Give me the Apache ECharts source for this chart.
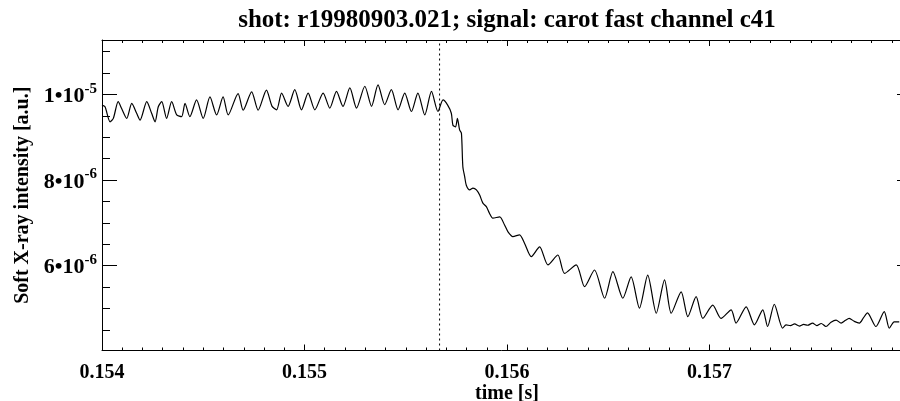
<!DOCTYPE html>
<html>
<head>
<meta charset="utf-8">
<script src="https://cdn.jsdelivr.net/npm/echarts@6/dist/echarts.min.js"></script>
<style>
  html, body { margin: 0; padding: 0; background: #fff; }
  #chart { width: 900px; height: 401px; }
</style>
</head>
<body>
<div id="chart"></div>
<script>
// time after 0.154 s, in microseconds
const tUs = [
  0, 15, 40, 56, 80, 97, 122, 147, 171, 188, 221, 245, 262, 278, 295, 319, 344, 369, 393, 410,
  434, 467, 500, 533, 566, 598, 623, 672, 697, 739, 771, 812, 840, 862, 887, 919, 952, 985, 1018, 1051,
  1092, 1125, 1158, 1190, 1224, 1257, 1298, 1331, 1363, 1396, 1429, 1462, 1495, 1528, 1560, 1594, 1627, 1659, 1684, 1707,
  1725, 1733, 1746, 1755, 1766, 1775, 1782, 1791, 1799, 1816, 1832, 1849, 1865, 1881, 1898, 1914, 1930, 1964, 1988, 2005,
  2029, 2062, 2087, 2120, 2161, 2202, 2251, 2284, 2342, 2383, 2432, 2482, 2523, 2572, 2613, 2654, 2695, 2737, 2778, 2811,
  2860, 2893, 2934, 2967, 3016, 3057, 3107, 3131, 3181, 3222, 3263, 3287, 3320, 3361, 3378, 3400, 3420, 3444, 3465, 3485,
  3509, 3530, 3552, 3575, 3600, 3625, 3650, 3670, 3690, 3715, 3740, 3760, 3780, 3822, 3863, 3888, 3912, 3937
];
// soft X-ray intensity, in units of 1e-6
const sxr = [
  9.75, 9.71, 9.36, 9.44, 9.83, 9.67, 9.44, 9.79, 9.56, 9.40, 9.83, 9.56, 9.36, 9.71, 9.83, 9.44, 9.83, 9.52, 9.48, 9.79,
  9.48, 9.87, 9.44, 9.94, 9.52, 9.94, 9.52, 10.02, 9.63, 10.06, 9.63, 10.10, 9.72, 9.64, 10.03, 9.72, 10.11, 9.64, 10.03, 9.64,
  10.03, 9.68, 10.07, 9.72, 10.15, 9.68, 10.19, 9.72, 10.22, 9.76, 10.11, 9.64, 10.03, 9.60, 10.03, 9.52, 10.07, 9.60, 9.87, 9.75,
  9.56, 9.28, 9.24, 9.44, 9.17, 9.09, 8.31, 8.08, 7.88, 7.77, 7.81, 7.77, 7.65, 7.46, 7.38, 7.22, 7.11, 7.14, 6.95, 6.79,
  6.68, 6.72, 6.52, 6.21, 6.44, 6.02, 6.25, 5.82, 6.02, 5.51, 5.90, 5.24, 5.86, 5.24, 5.74, 5.01, 5.78, 4.89, 5.67, 4.89,
  5.39, 4.81, 5.28, 4.77, 5.08, 4.77, 4.97, 4.66, 5.04, 4.62, 4.97, 4.58, 5.10, 4.54, 4.62, 4.60, 4.64, 4.59, 4.63, 4.61,
  4.66, 4.60, 4.65, 4.58, 4.68, 4.73, 4.66, 4.72, 4.77, 4.70, 4.66, 4.78, 4.90, 4.58, 4.93, 4.54, 4.69, 4.69
];
const markerTime = 0.155667;

const xMin = 0.154, xMax = 0.158, xStep = 0.001;
const yMin = 4.02e-6, yMax = 1.127e-5;
const yMajorTicks = [6e-6, 8e-6, 1e-5];
const yMajorText = [['6', '-6'], ['8', '-6'], ['1', '-5']];
const yMinorTicks = [4.5e-6, 5e-6, 5.5e-6, 6.5e-6, 7e-6, 7.5e-6, 8.5e-6, 9e-6, 9.5e-6, 1.05e-5, 1.1e-5];

const FONT = 'Liberation Serif';
const data = tUs.map((t, i) => [xMin + t * 1e-6, sxr[i] * 1e-6]);
const markerData = [[markerTime, yMin], [markerTime, yMax]];

const chart = echarts.init(document.getElementById('chart'), null, { renderer: 'canvas' });

const lineBlack = { color: '#000', width: 1 };

function xAxisDef(pos, showLabel) {
  return {
    type: 'value', position: pos, min: xMin, max: xMax, interval: xStep,
    axisLine: { show: true, onZero: false, lineStyle: lineBlack },
    axisTick: { show: true, inside: true, length: 6, lineStyle: lineBlack },
    minorTick: { show: true, splitNumber: 10, length: 3, lineStyle: lineBlack },
    splitLine: { show: false },
    axisLabel: {
      show: showLabel, showMaxLabel: false, margin: 12,
      color: '#000', fontFamily: FONT, fontWeight: 'bold', fontSize: 20,
      formatter: v => v.toFixed(3)
    },
    name: showLabel ? 'time [s]' : '',
    nameLocation: 'middle', nameGap: 33, nameMoveOverlap: false,
    nameTextStyle: { color: '#000', fontFamily: FONT, fontWeight: 'bold', fontSize: 20 }
  };
}

const option = {
  animation: false,
  backgroundColor: '#fff',
  title: {
    text: 'shot: r19980903.021; signal: carot fast channel c41',
    left: 507, top: 8, textAlign: 'center', padding: 0,
    textStyle: { color: '#000', fontFamily: FONT, fontWeight: 'bold', fontSize: 25 }
  },
  grid: { left: 102, top: 40, width: 810, height: 310.5, outerBoundsMode: 'none', containLabel: false },
  xAxis: [xAxisDef('bottom', true), xAxisDef('top', false)],
  yAxis: [
    {
      type: 'value', position: 'left', min: yMin, max: yMax,
      axisLine: { show: true, onZero: false, lineStyle: lineBlack },
      axisTick: { show: true, inside: true, length: 15, lineStyle: lineBlack, customValues: yMajorTicks },
      splitLine: { show: false },
      axisLabel: {
        show: true, margin: 5, customValues: yMajorTicks,
        formatter: v => {
          const k = yMajorTicks.findIndex(m => Math.abs(m - v) < 1e-9);
          if (k < 0) return '';
          return '{b|' + yMajorText[k][0] + '•10}{s|' + yMajorText[k][1] + '}';
        },
        rich: {
          b: { color: '#000', fontFamily: FONT, fontWeight: 'bold', fontSize: 22, lineHeight: 26, verticalAlign: 'bottom' },
          s: { color: '#000', fontFamily: FONT, fontWeight: 'bold', fontSize: 15, lineHeight: 15, verticalAlign: 'top' }
        }
      },
      name: 'Soft X-ray intensity [a.u.]',
      nameLocation: 'middle', nameRotate: 90, nameGap: 69,
      nameTextStyle: { color: '#000', fontFamily: FONT, fontWeight: 'bold', fontSize: 20 }
    },
    {
      type: 'value', position: 'left', min: yMin, max: yMax,
      axisLine: { show: false },
      axisTick: { show: true, inside: true, length: 8, lineStyle: lineBlack, customValues: yMinorTicks },
      axisLabel: { show: false },
      splitLine: { show: false }
    },
    {
      type: 'value', position: 'right', min: yMin, max: yMax,
      axisLine: { show: true, onZero: false, lineStyle: lineBlack },
      axisTick: { show: true, inside: true, length: 15, lineStyle: lineBlack, customValues: yMajorTicks },
      axisLabel: { show: false },
      splitLine: { show: false }
    }
  ],
  series: [
    {
      type: 'line',
      data: data,
      showSymbol: false,
      symbol: 'none',
      smooth: 0.25,
      lineStyle: { color: '#000', width: 1.2 },
      clip: true
    },
    {
      type: 'line',
      data: markerData,
      showSymbol: false,
      symbol: 'none',
      silent: true,
      lineStyle: { color: '#000', width: 1, type: [2, 3] }
    }
  ]
};

chart.setOption(option);
</script>
</body>
</html>
